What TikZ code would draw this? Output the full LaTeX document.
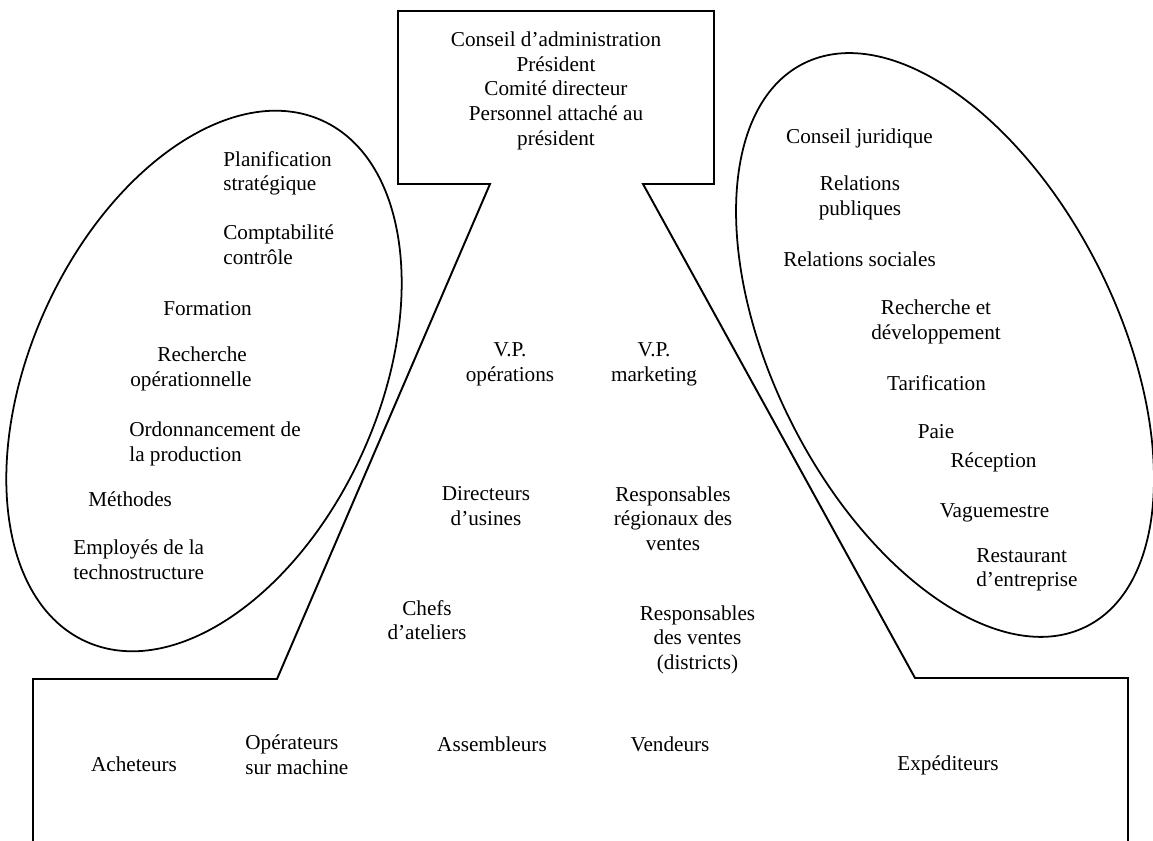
\documentclass[tikz,border=0pt]{standalone}
\usepackage{fontspec}
\setmainfont{Liberation Serif}
\begin{document}
\begin{tikzpicture}[x=0.566pt,y=-0.566pt,
  lbl/.style={inner sep=0pt, yshift=-1.8pt, font=\fontsize{12pt}{14pt}\selectfont,
    execute at begin node=\strut, execute at end node=\strut},
  lc/.style={lbl, align=center},
  ll/.style={lbl, align=left, anchor=west},
  outline/.style={line width=1.1pt, line join=miter},
  oval/.style={line width=1pt}]
\useasboundingbox (0,0) rectangle (1153,841);

% outline of the structure
\coordinate (b1) at (33,841);
\coordinate (b2) at (33,679);
\coordinate (b3) at (277,679);
\coordinate (t1) at (490,184);
\coordinate (t2) at (398,184);
\coordinate (t3) at (398,11);
\coordinate (t4) at (714,11);
\coordinate (t5) at (714,184);
\coordinate (t6) at (643,184);
\coordinate (b4) at (915,678);
\coordinate (b5) at (1128,678);
\coordinate (b6) at (1128,841);
\draw[outline] (b1) -- (b2) -- (b3) -- (t1) -- (t2) -- (t3) -- (t4) -- (t5) -- (t6) -- (b4) -- (b5) -- (b6);

% support ellipses
\coordinate (lc) at (204,381);
\coordinate (rc) at (945,345);
\draw[oval, rotate around={65.6:(lc)}] (lc) ellipse [x radius=161.9pt, y radius=98.5pt];
\draw[oval, rotate around={-63.3:(rc)}] (rc) ellipse [x radius=178.3pt, y radius=97.4pt];

% top box
\node[lc] (apex) at (556,89) {Conseil d’administration\\Président\\Comité directeur\\Personnel attaché au\\président};

% technostructure
\node[ll] (plan) at (223,171.5) {Planification\\stratégique};
\node[ll] (compta) at (223,245) {Comptabilité\\contrôle};
\node[ll] (form) at (163,307) {Formation};
\node[ll] (ro) at (130,367.5) {\hspace*{15.3pt}Recherche\\opérationnelle};
\node[ll] (ordo) at (129,442.5) {Ordonnancement de\\la production};
\node[ll] (meth) at (88,498) {Méthodes};
\node[ll] (empl) at (73,560) {Employés de la\\technostructure};

% middle line
\node[lc] (vpo) at (510,362.5) {V.P.\\opérations};
\node[lc] (vpm) at (654,362.5) {V.P.\\marketing};
\node[lc] (dir) at (486,506.5) {Directeurs\\d’usines};
\node[lc] (rrv) at (673,519) {Responsables\\régionaux des\\ventes};
\node[lc] (chefs) at (427,620.5) {Chefs\\d’ateliers};
\node[lc] (rvd) at (697.5,638) {Responsables\\des ventes\\(districts)};

% support staff
\node[lc] (cj) at (859.5,135) {Conseil juridique};
\node[lc] (rp) at (860,196.5) {Relations\\publiques};
\node[lc] (rs) at (859.5,258) {Relations sociales};
\node[lc] (rd) at (936,320.5) {Recherche et\\développement};
\node[lc] (tarif) at (936.5,382) {Tarification};
\node[lc] (paie) at (936,430) {Paie};
\node[lc] (recep) at (993.5,459) {Réception};
\node[lc] (vague) at (994.5,509) {Vaguemestre};
\node[ll] (resto) at (976,568) {Restaurant\\d’entreprise};

% operating core
\node[lc] (ach) at (134,763) {Acheteurs};
\node[ll] (oper) at (245,755) {Opérateurs\\sur machine};
\node[lc] (ass) at (492,743) {Assembleurs};
\node[lc] (vend) at (670,743) {Vendeurs};
\node[lc] (exp) at (948,762) {Expéditeurs};
\end{tikzpicture}
\end{document}
